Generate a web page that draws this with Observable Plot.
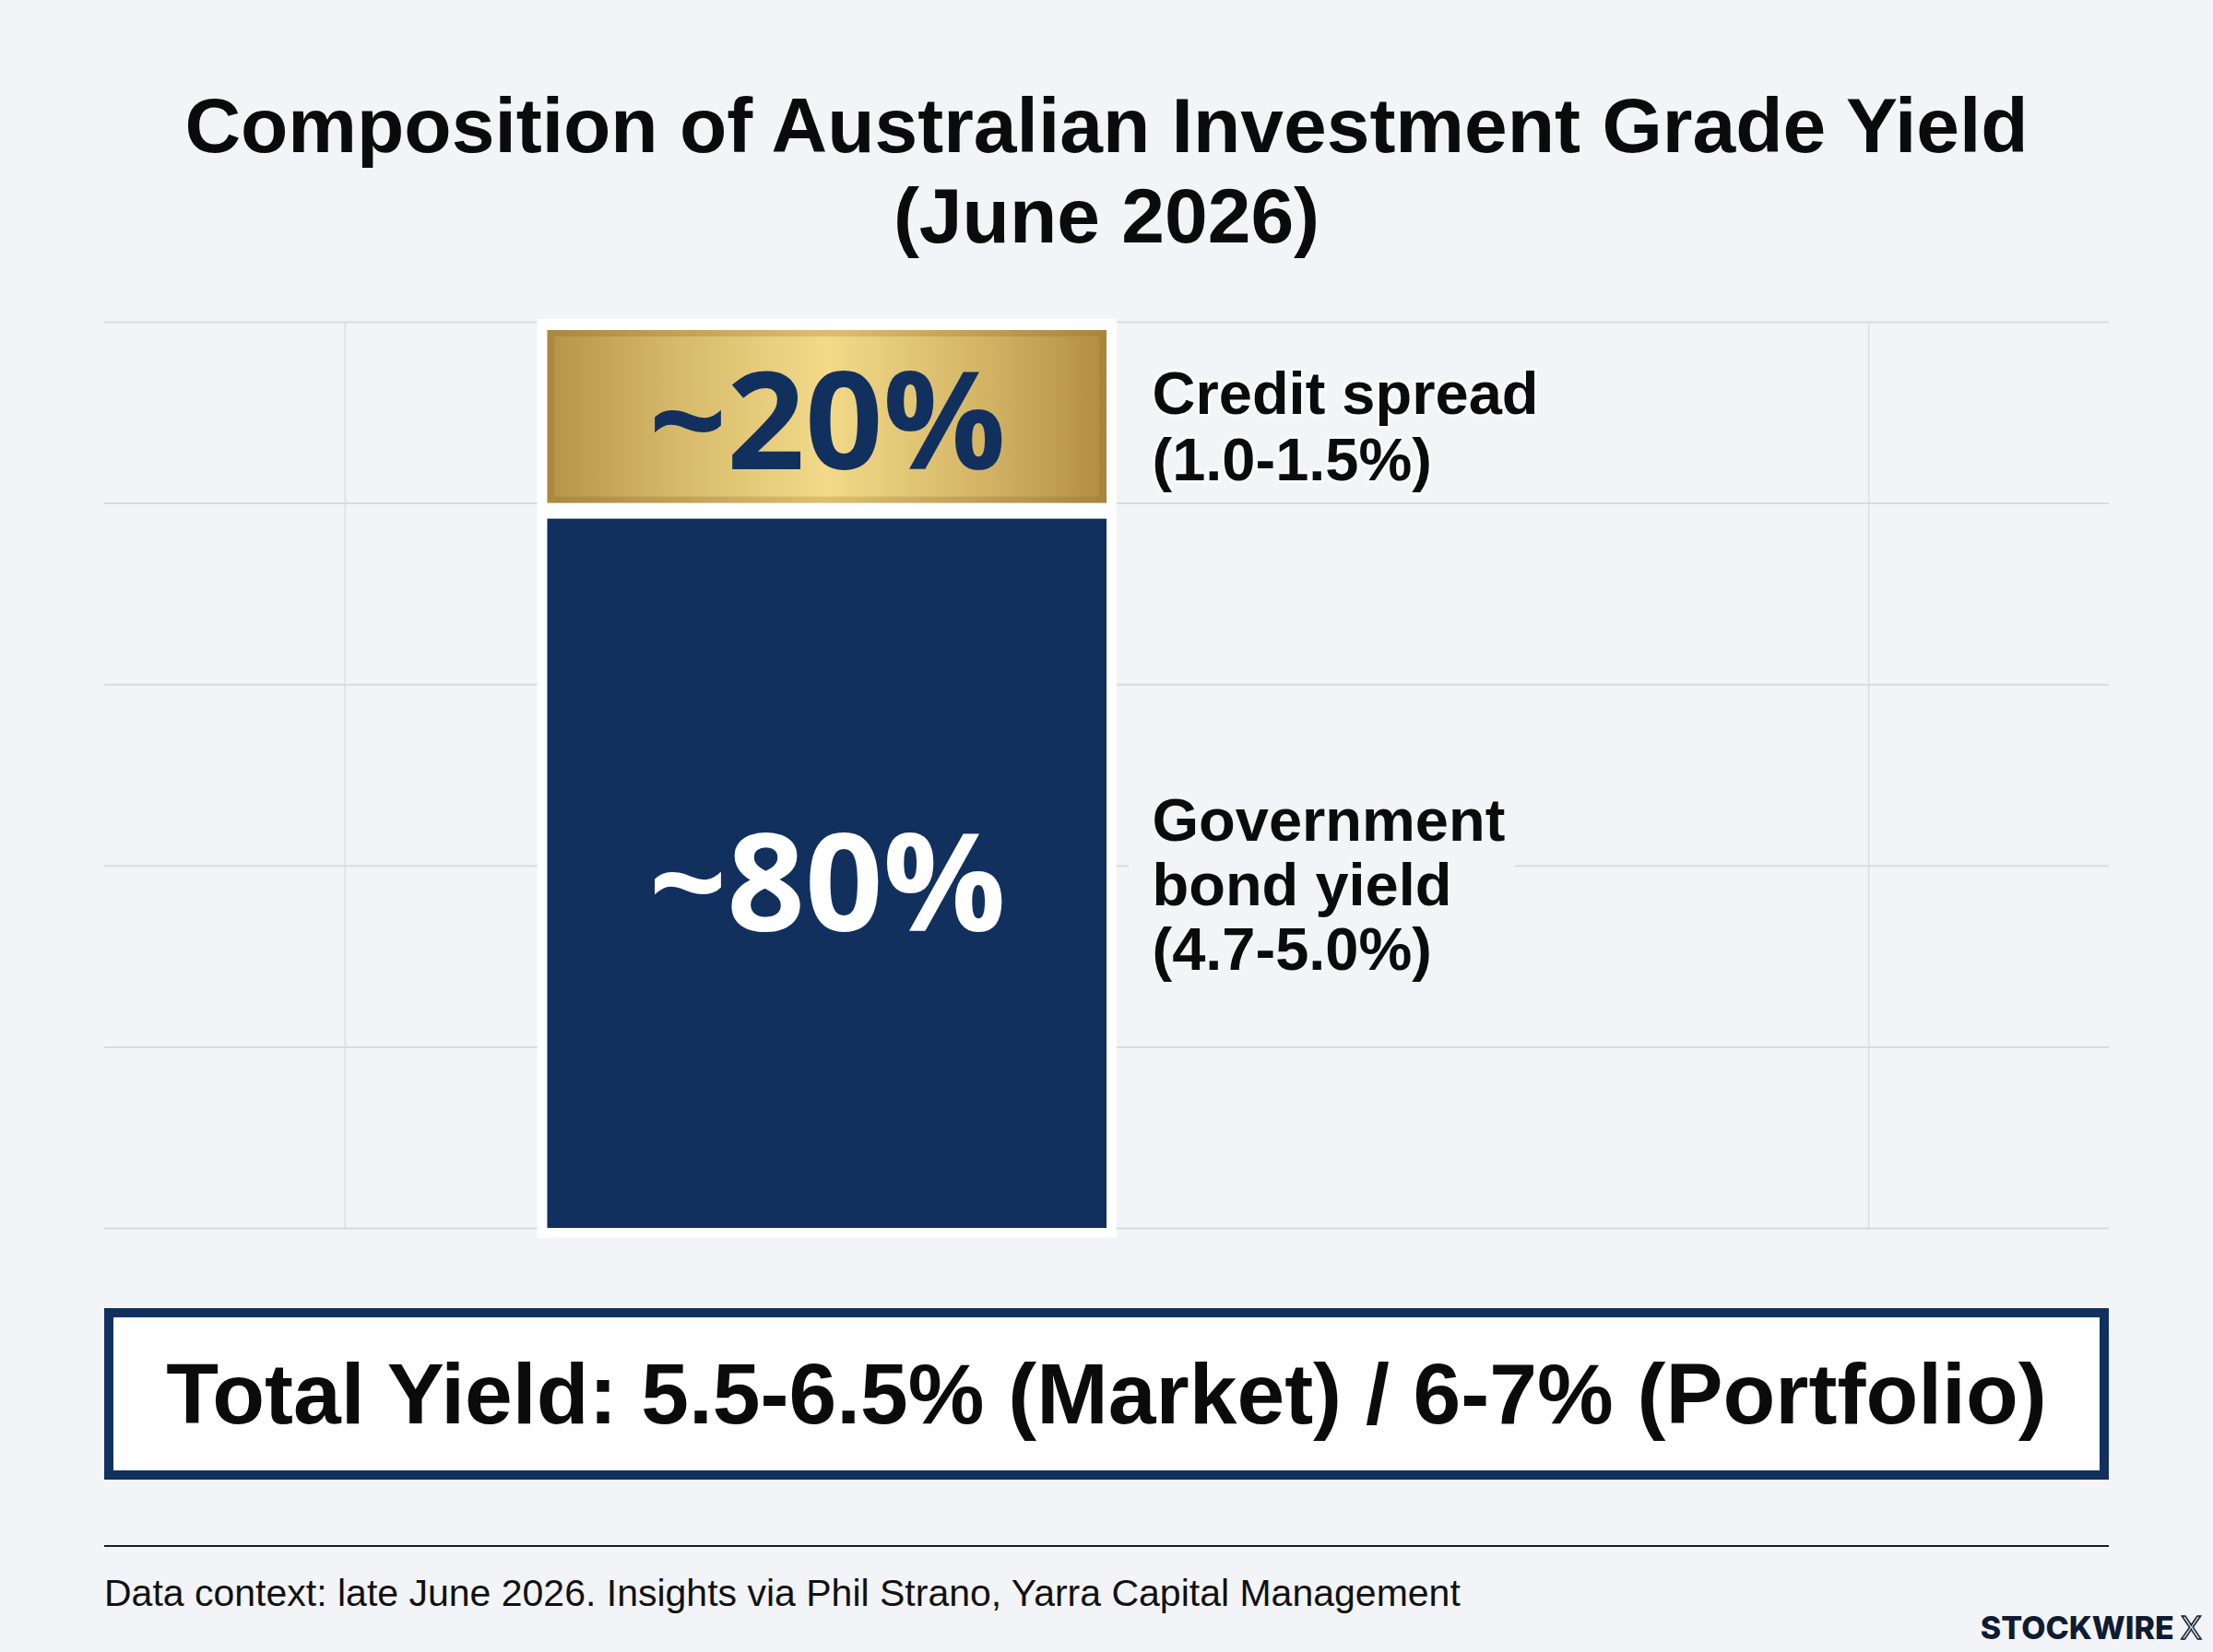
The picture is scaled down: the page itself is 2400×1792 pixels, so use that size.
<!DOCTYPE html>
<html>
<head>
<meta charset="utf-8">
<script src="https://cdn.jsdelivr.net/npm/d3@7"></script>
<script src="https://cdn.jsdelivr.net/npm/@observablehq/plot@0.6"></script>
<style>
  html, body { margin: 0; padding: 0; background: #f3f4f7; }
  #page { position: relative; width: 2400px; height: 1792px; overflow: hidden;
          font-family: "Liberation Sans", Arial, sans-serif; color: #0b0b0b; }
  #title { position: absolute; left: 0; top: 87px; width: 2400px; text-align: center;
           font-weight: 700; font-size: 84px; line-height: 98px; }
  #chart { position: absolute; left: 0; top: 300px; }
  #total { position: absolute; left: 113px; top: 1419px; width: 2174px; height: 186px;
           box-sizing: border-box; border: 10px solid #12305e; background: #ffffff;
           display: flex; align-items: center; justify-content: center;
           font-weight: 700; font-size: 93px; color: #0b0b0b; }
  #rule { position: absolute; left: 113px; top: 1676px; width: 2174px; height: 2px; background: #1c1c1c; }
  #note { position: absolute; left: 113px; top: 1706px; font-size: 41px; line-height: 44px; color: #111111; }
  #brand { position: absolute; right: 12px; top: 1749px; font-family: Inter, "Liberation Sans", sans-serif;
           font-weight: 800; font-size: 34px; line-height: 34px; color: #0f1b33; }
  #brand .x { color: #f3f4f7; -webkit-text-stroke: 1.5px #0f1b33; font-weight: 400; margin-left: 7px; }
  g[aria-label="column frame"] { filter: drop-shadow(0 2px 4px rgba(0, 0, 0, 0.16)); }
</style>
</head>
<body>
<div id="page">
  <div id="title"></div>
  <div id="chart"></div>
  <div id="total"></div>
  <div id="rule"></div>
  <div id="note"></div>
  <div id="brand">STOCKWIRE<span class="x">X</span></div>
</div>
<script>
// Components of the yield, bottom to top of the stacked column
const components = ["Government bond yield", "Credit spread"];
const shares = [80, 20];
const shareLabels = ["~80%", "~20%"];
const detailLabels = ["Government\nbond yield\n(4.7-5.0%)", "Credit spread\n(1.0-1.5%)"];

// Gridlines (share of total yield) and the two vertical guides
const yTicks = [0, 20, 40, 60, 80, 100];
const xTicks = [12, 88];

const titleLines = ["Composition of Australian Investment Grade Yield", "(June 2026)"];
const totalYield = "Total Yield: 5.5-6.5% (Market) / 6-7% (Portfolio)";
const note = "Data context: late June 2026. Insights via Phil Strano, Yarra Capital Management";

const NAVY = "#12305e";
const INK = "#0b0b0b";
const BG = "#f3f4f7";

// Horizontal extent of the column on the layout x scale
const column = [22.1, 50.0];
const center = (column[0] + column[1]) / 2;

// Stack the shares
let acc = 0;
const rows = components.map((component, i) => {
  const y1 = acc;
  acc += shares[i];
  return {component, share: shares[i], y1, y2: acc, mid: (y1 + acc) / 2,
          label: shareLabels[i], detail: detailLabels[i]};
});
const totalRow = [{total: acc}];
const gov = d => d.component === components[0];
const credit = d => d.component === components[1];

function goldDefs() {
  const defs = d3.create("svg:defs");
  const grad = (id, stops) => {
    const g = defs.append("linearGradient").attr("id", id)
      .attr("x1", 0).attr("x2", 1).attr("y1", 0).attr("y2", 0);
    stops.forEach(([o, c]) => g.append("stop").attr("offset", o).attr("stop-color", c));
  };
  grad("goldEdge", [[0, "#a9883f"], [0.5, "#dcbf6e"], [1, "#a7853e"]]);
  grad("goldFace", [[0, "#b8954a"], [0.22, "#d6b96a"], [0.5, "#f2da89"], [0.78, "#d4b566"], [1, "#b38f45"]]);
  return defs.node();
}

const xCol = {x1: () => column[0], x2: () => column[1]};
const detailText = {x: () => column[1], y: "mid", text: "detail", dx: 49, textAnchor: "start",
  fontSize: 65, fontWeight: 700, fontFamily: "Liberation Sans"};

const chart = Plot.plot({
  width: 2400,
  height: 1080,
  marginTop: 49,
  marginBottom: 48,
  marginLeft: 113,
  marginRight: 113,
  x: {domain: [0, 100], axis: null},
  y: {domain: [0, 100], axis: null},
  style: {background: "transparent", overflow: "visible"},
  marks: [
    goldDefs,
    Plot.ruleY(yTicks, {stroke: "#d7dae0", strokeWidth: 2}),
    Plot.ruleX(xTicks, {stroke: "#dadde2", strokeWidth: 1.5}),
    Plot.rect(totalRow, {...xCol, y1: () => 0, y2: "total", fill: "#ffffff",
      insetLeft: -11, insetRight: -11, insetTop: -3, insetBottom: -11, ariaLabel: "column frame"}),
    Plot.rect(rows, {filter: gov, ...xCol, y1: "y1", y2: "y2", fill: NAVY, insetTop: 17}),
    Plot.rect(rows, {filter: credit, ...xCol, y1: "y1", y2: "y2", fill: "url(#goldEdge)",
      insetTop: 9}),
    Plot.rect(rows, {filter: credit, ...xCol, y1: "y1", y2: "y2", fill: "url(#goldFace)",
      insetTop: 16, insetBottom: 7, insetLeft: 8, insetRight: 8}),
    Plot.text(rows, {filter: gov, x: () => center, y: "mid", text: "label", dy: 23,
      fill: "#ffffff", fontSize: 148, fontWeight: 700, fontFamily: "Open Sans"}),
    Plot.text(rows, {filter: credit, x: () => center, y: "mid", text: "label", dy: 14,
      fill: NAVY, fontSize: 148, fontWeight: 700, fontFamily: "Open Sans"}),
    // background-coloured halo that clears the gridline behind the long label
    Plot.text(rows, {filter: gov, ...detailText, dy: 20, lineHeight: 1.08,
      fill: BG, stroke: BG, strokeWidth: 60, strokeLinejoin: "round"}),
    Plot.text(rows, {filter: gov, ...detailText, dy: 20, lineHeight: 1.08, fill: INK}),
    Plot.text(rows, {filter: credit, ...detailText, dy: 14, lineHeight: 1.12,
      fill: "#ffffff", stroke: "#ffffff", strokeOpacity: 0.5, strokeWidth: 6, strokeLinejoin: "round"}),
    Plot.text(rows, {filter: credit, ...detailText, dy: 14, lineHeight: 1.12, fill: INK})
  ]
});

document.getElementById("chart").appendChild(chart);
document.getElementById("title").innerHTML = titleLines.join("<br>");
document.getElementById("total").textContent = totalYield;
document.getElementById("note").textContent = note;
</script>
</body>
</html>
